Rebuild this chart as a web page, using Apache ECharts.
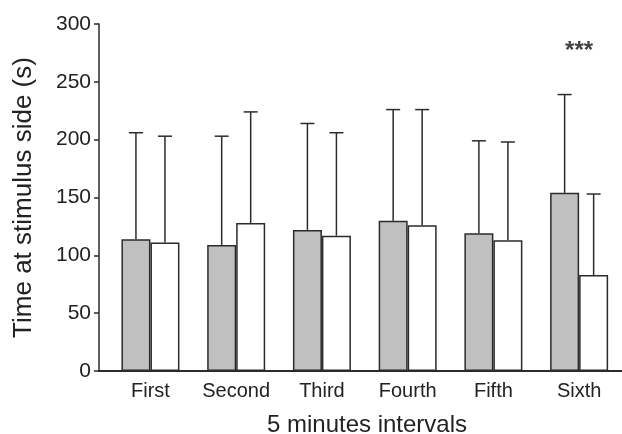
<!DOCTYPE html>
<html>
<head>
<meta charset="utf-8">
<script src="https://cdn.jsdelivr.net/npm/echarts@6/dist/echarts.min.js"></script>
<style>html,body{margin:0;padding:0;background:#fff}#c{width:622px;height:434px}</style>
</head>
<body>
<div id="c"></div>
<script>
const categories = ['First', 'Second', 'Third', 'Fourth', 'Fifth', 'Sixth'];
const grayMeans = [114, 109, 122, 130, 119, 154];
const grayUpper = [206, 203, 214, 226, 199, 239];
const whiteMeans = [111, 128, 117, 126, 113, 83];
const whiteUpper = [203, 224, 206, 226, 198, 153];
const yTicks = [0, 50, 100, 150, 200, 250, 300];
const annotation = { category: 5, value: 276, text: '***' };

const INK = '#2b2b2b';
const FONT = 'Liberation Sans, Arial, sans-serif';
const BAR_W = 29;

function errData(means, upper, side) {
  return means.map((m, i) => [i, m, upper[i], side]);
}

const errSeries = (means, upper, side) => ({
  type: 'custom',
  data: errData(means, upper, side),
  encode: { x: 0, y: [1, 2] },
  z: 1,
  renderItem: function (params, api) {
    const x = api.value(0);
    const lo = api.coord([x, api.value(1)]);
    const hi = api.coord([x, api.value(2)]);
    const cx = lo[0] + api.value(3) * BAR_W / 2;
    const capHalf = 7;
    return {
      type: 'group',
      children: [
        { type: 'line', shape: { x1: cx, y1: lo[1], x2: cx, y2: hi[1] }, style: { stroke: INK, lineWidth: 1.5 } },
        { type: 'line', shape: { x1: cx - capHalf, y1: hi[1], x2: cx + capHalf, y2: hi[1] }, style: { stroke: INK, lineWidth: 1.5 } }
      ]
    };
  }
});

const chart = echarts.init(document.getElementById('c'), null, { renderer: 'canvas' });
chart.setOption({
  animation: false,
  backgroundColor: '#fff',
  grid: { left: 99, right: 0, top: 24, bottom: 63, containLabel: false, outerBoundsMode: 'none' },
  xAxis: {
    type: 'value',
    min: -0.6,
    max: 5.5,
    axisLine: { show: true, onZero: false, lineStyle: { color: INK, width: 1.8 } },
    axisTick: { show: false },
    splitLine: { show: false },
    axisLabel: {
      customValues: categories.map((c, i) => i),
      formatter: v => categories[Math.round(v)] || '',
      color: '#222', fontSize: 20, fontFamily: FONT, margin: 10
    },
    name: '5 minutes intervals',
    nameLocation: 'middle',
    nameGap: 42,
    nameTextStyle: { color: '#222', fontSize: 24, fontFamily: FONT, padding: [0, 0, 0, 13] }
  },
  yAxis: {
    type: 'value',
    min: yTicks[0],
    max: yTicks[yTicks.length - 1],
    interval: 50,
    axisLine: { show: true, onZero: false, lineStyle: { color: INK, width: 1.5 } },
    axisTick: { show: true, length: 5, lineStyle: { color: INK, width: 1.5 } },
    splitLine: { show: false },
    axisLabel: { color: '#222', fontSize: 21, fontFamily: FONT, margin: 8 },
    name: 'Time at stimulus side (s)',
    nameLocation: 'middle',
    nameGap: 62,
    nameTextStyle: { color: '#222', fontSize: 26, fontFamily: FONT }
  },
  series: [
    {
      type: 'bar',
      data: grayMeans.map((v, i) => [i, v]),
      barWidth: BAR_W,
      barGap: '0%',
      z: 2,
      itemStyle: { color: '#c0c0c0', borderColor: INK, borderWidth: 1.5 }
    },
    {
      type: 'bar',
      data: whiteMeans.map((v, i) => [i, v]),
      barWidth: BAR_W,
      barGap: '0%',
      z: 2,
      itemStyle: { color: '#ffffff', borderColor: INK, borderWidth: 1.5 }
    },
    errSeries(grayMeans, grayUpper, -1),
    errSeries(whiteMeans, whiteUpper, 1),
    {
      type: 'scatter',
      data: [[annotation.category, annotation.value]],
      symbolSize: 1,
      itemStyle: { color: 'rgba(0,0,0,0)' },
      label: { show: true, position: 'inside', formatter: annotation.text, color: '#111', fontSize: 24, fontWeight: 'bold', fontFamily: FONT }
    }
  ]
});
</script>
</body>
</html>
